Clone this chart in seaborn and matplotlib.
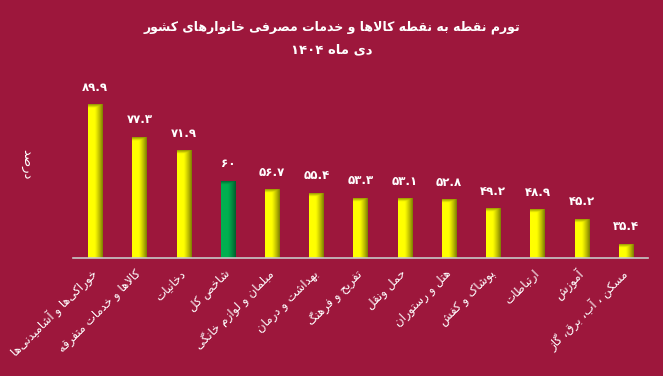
import re
import numpy as np
import pandas as pd
import matplotlib
matplotlib.use("Agg")
import matplotlib.pyplot as plt
import seaborn as sns
from matplotlib.colors import to_rgb

# ---------------- data ----------------
title = "تورم نقطه به نقطه کالاها و خدمات مصرفی خانوارهای کشور"
subtitle = "دی ماه ۱۴۰۴"
ylabel = "درصد"
categories = [
    "خوراکی‌ها و آشامیدنی‌ها",
    "کالاها و خدمات متفرقه",
    "دخانیات",
    "شاخص کل",
    "مبلمان و لوازم خانگی",
    "بهداشت و درمان",
    "تفریح و فرهنگ",
    "حمل ونقل",
    "هتل و رستوران",
    "پوشاک و کفش",
    "ارتباطات",
    "آموزش",
    "مسکن ، آب، برق، گاز",
]
values = [89.9, 77.3, 71.9, 60.0, 56.7, 55.4, 53.3, 53.1, 52.8, 49.2, 48.9, 45.2, 35.4]
highlight = "شاخص کل"

BG = "#9D173C"

# ------------- Arabic/Persian shaping -------------
def _dual(b):
    return (b, b + 1, b + 2, b + 3)

FORMS = {
    "ا": (0xFE8D, 0xFE8E, None, None), "آ": (0xFE81, 0xFE82, None, None),
    "ب": _dual(0xFE8F), "پ": _dual(0xFB56), "ت": _dual(0xFE95), "ث": _dual(0xFE99),
    "ج": _dual(0xFE9D), "چ": _dual(0xFB7A), "ح": _dual(0xFEA1), "خ": _dual(0xFEA5),
    "د": (0xFEA9, 0xFEAA, None, None), "ذ": (0xFEAB, 0xFEAC, None, None),
    "ر": (0xFEAD, 0xFEAE, None, None), "ز": (0xFEAF, 0xFEB0, None, None),
    "ژ": (0xFB8A, 0xFB8B, None, None), "و": (0xFEED, 0xFEEE, None, None),
    "س": _dual(0xFEB1), "ش": _dual(0xFEB5), "ص": _dual(0xFEB9), "ض": _dual(0xFEBD),
    "ط": _dual(0xFEC1), "ظ": _dual(0xFEC5), "ع": _dual(0xFEC9), "غ": _dual(0xFECD),
    "ف": _dual(0xFED1), "ق": _dual(0xFED5), "ک": _dual(0xFB8E), "گ": _dual(0xFB92),
    "ل": _dual(0xFEDD), "م": _dual(0xFEE1), "ن": _dual(0xFEE5), "ه": _dual(0xFEE9),
    "ی": _dual(0xFBFC),
}

def _is_dual(c):
    return c in FORMS and FORMS[c][2] is not None

def shape(s):
    chars = list(s)
    n = len(chars)
    out = []
    i = 0
    while i < n:
        c = chars[i]
        if c not in FORMS:
            if c != "\u200c":
                out.append(c)
            i += 1
            continue
        prev = chars[i - 1] if i > 0 else None
        jp = prev is not None and _is_dual(prev)
        if c == "ل" and i + 1 < n and chars[i + 1] in ("ا", "آ"):
            iso, fin = (0xFEFB, 0xFEFC) if chars[i + 1] == "ا" else (0xFEF5, 0xFEF6)
            out.append(chr(fin if jp else iso))
            i += 2
            continue
        nxt = chars[i + 1] if i + 1 < n else None
        jn = _is_dual(c) and nxt is not None and nxt in FORMS
        f = FORMS[c]
        if jp and jn:
            code = f[3]
        elif jp:
            code = f[1]
        elif jn:
            code = f[2]
        else:
            code = f[0]
        out.append(chr(code))
        i += 1
    return "".join(out)

def rtl(s):
    tokens = re.findall(r"[0-9۰-۹.]+|.", shape(s))
    return "".join(reversed(tokens))

def fa_num(v):
    s = f"{v:g}"
    return s.translate(str.maketrans("0123456789", "۰۱۲۳۴۵۶۷۸۹"))

# ---------------- plot ----------------
plt.rcParams["font.family"] = ["DejaVu Sans"]
df = pd.DataFrame({"cat": categories, "val": values})
palette = {c: ("#00B050" if c == highlight else "#FFFF00") for c in categories}

fig = plt.figure(figsize=(6.63, 3.76), dpi=100, facecolor=BG)
ax = fig.add_axes([73 / 663, 1 - 258 / 376, 575 / 663, (258 - 79) / 376])
ax.set_facecolor(BG)

sns.barplot(data=df, x="cat", y="val", hue="cat", palette=palette, legend=False,
            width=0.32, ax=ax, saturation=1, linewidth=0)
ax.set_ylim(30, 100)
ax.set_xlim(-0.5, len(categories) - 0.5)

# gradient overlay on each bar
bevel_units = 1.3
for p, c in zip(ax.patches, categories):
    x0, w = p.get_x(), p.get_width()
    top = p.get_y() + p.get_height()
    y0 = max(p.get_y(), 30)
    h = top - y0
    if c == highlight:
        light, dark = np.array(to_rgb("#00B050")), np.array(to_rgb("#005E2E"))
    else:
        light, dark = np.array(to_rgb("#FFFF00")), np.array(to_rgb("#7F7F00"))
    cols, rows = 40, 200
    t = np.linspace(0, 1, cols)
    fx = np.clip((t - 0.45) / 0.55, 0, 1) ** 1.2
    yy = np.linspace(0, h, rows)
    fy = np.clip((yy - (h - bevel_units)) / bevel_units, 0, 1) * 0.8
    f = np.maximum(fx[None, :], fy[:, None])
    img = light[None, None, :] * (1 - f[..., None]) + dark[None, None, :] * f[..., None]
    ax.imshow(img, extent=(x0, x0 + w, y0, top), origin="lower",
              aspect="auto", zorder=3, interpolation="bilinear")
    ax.annotate(fa_num(top), (x0 + w / 2, top),
                xytext=(0, 8), textcoords="offset points", ha="center",
                va="bottom", color="white", fontsize=8.5, fontweight="bold")
ax.set_ylim(30, 100)
ax.set_xlim(-0.5, len(categories) - 0.5)

for s in ("top", "left", "right"):
    ax.spines[s].set_visible(False)
ax.spines["bottom"].set_color("#C8C8C8")
ax.spines["bottom"].set_linewidth(1.2)
ax.spines["bottom"].set_zorder(4)
ax.set_yticks([])
ax.set_xticks(range(len(categories)))
ax.set_xticklabels([rtl(c) for c in categories], rotation=45, ha="right",
                   va="center", rotation_mode="anchor", color="white", fontsize=8.5)
ax.tick_params(axis="x", length=0, pad=10)
ax.set_xlabel("")
ax.set_ylabel("")

fig.text(0.5, 1 - 27 / 376, rtl(title), ha="center", va="center", color="white",
         fontsize=9, fontweight="bold")
fig.text(0.5, 1 - 50 / 376, rtl(subtitle), ha="center", va="center", color="white",
         fontsize=9.5, fontweight="bold")
fig.text(27 / 663, 1 - 164 / 376, rtl(ylabel), ha="center", va="center", color="white",
         fontsize=9.5, rotation=270)

fig.savefig("out.png", dpi=100, facecolor=BG)
